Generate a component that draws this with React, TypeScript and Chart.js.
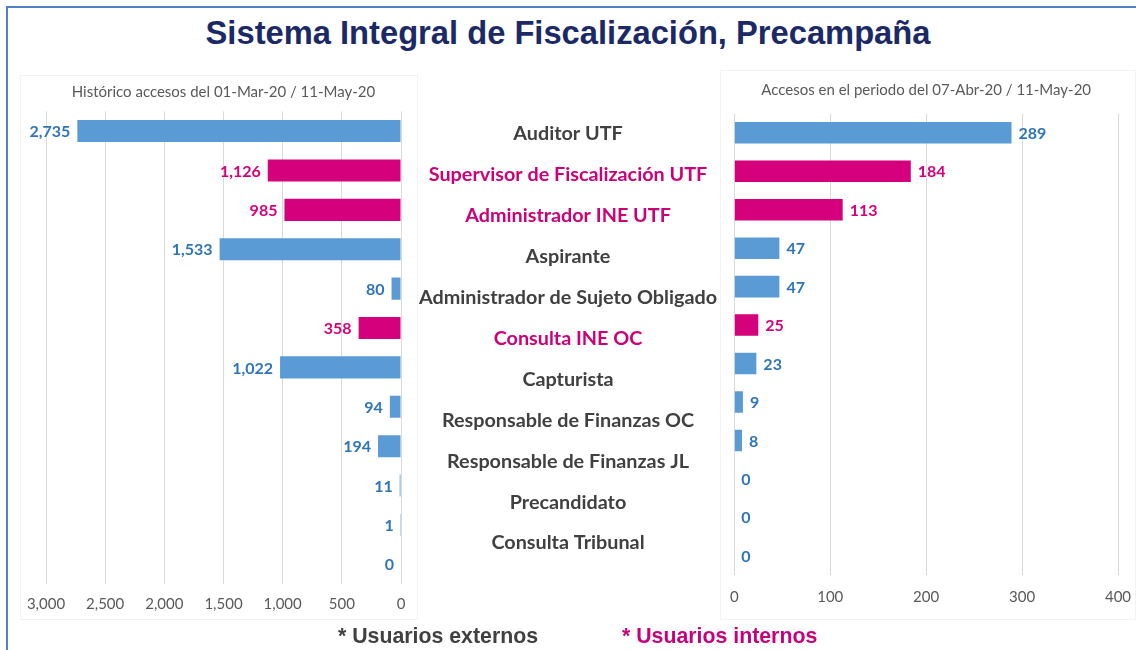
import React, { useEffect, useRef } from "react";
import { Chart, registerables } from "chart.js";

Chart.register(...registerables);

// ---- data ----
const categories = [
  "Auditor UTF",
  "Supervisor de Fiscalización UTF",
  "Administrador INE UTF",
  "Aspirante",
  "Administrador de Sujeto Obligado",
  "Consulta INE OC",
  "Capturista",
  "Responsable de Finanzas OC",
  "Responsable de Finanzas JL",
  "Precandidato",
  "Consulta Tribunal",
];
const categoryInternal = [false, true, true, false, false, true, false, false, false, false, false];

// bar rows (12 rows each; the last row has no label)
const rowLabels = [...categories, ""];
const rowInternal = [...categoryInternal, false];
const historico = [2735, 1126, 985, 1533, 80, 358, 1022, 94, 194, 11, 1, 0];
const periodo = [289, 184, 113, 47, 47, 25, 23, 9, 8, 0, 0, 0];

const histAxis = [0, 3000, 500]; // min, max, step
const periodAxis = [0, 400, 100];

const mainTitle = "Sistema Integral de Fiscalización, Precampaña";
const histTitle = "Histórico accesos del 01-Mar-20 / 11-May-20";
const periodTitle = "Accesos en el periodo del 07-Abr-20 / 11-May-20";
const legendExternal = "* Usuarios externos";
const legendInternal = "* Usuarios internos";

// ---- styles ----
const BLUE = "#5b9bd5";
const MAGENTA = "#d5007c";
const LABEL_BLUE = "#2e75b6";
const LABEL_MAG = "#d5007c";
const CAT_GRAY = "#404040";
const CAT_MAG = "#cc0077";
const TICK_GRAY = "#595959";
const GRID = "#d9d9d9";
const FONT = "Lato, 'Open Sans', sans-serif";

const fmt = (v: number) => Number(v).toLocaleString("en-US");

function valueLabels(side: "left" | "right") {
  return {
    id: "valueLabels",
    afterDatasetsDraw(chart: any) {
      const ctx = chart.ctx;
      const meta = chart.getDatasetMeta(0);
      const data = chart.data.datasets[0].data as number[];
      ctx.save();
      ctx.font = `bold 16px ${FONT}`;
      ctx.textBaseline = "middle";
      meta.data.forEach((el: any, i: number) => {
        ctx.fillStyle = rowInternal[i] ? LABEL_MAG : LABEL_BLUE;
        const txt = fmt(data[i]);
        if (side === "left") {
          ctx.textAlign = "right";
          ctx.fillText(txt, el.x - 7, el.y + 1);
        } else {
          ctx.textAlign = "left";
          ctx.fillText(txt, el.x + 7, el.y + 1);
        }
      });
      ctx.restore();
    },
  };
}

// draws the category names centred in the middle column, at the y scale's tick positions
const centerLabels = {
  id: "centerLabels",
  afterDraw(chart: any) {
    const ctx = chart.ctx;
    const y = chart.scales.y;
    const labels = chart.data.labels as string[];
    ctx.save();
    ctx.font = `bold 19.8px ${FONT}`;
    ctx.textAlign = "center";
    ctx.textBaseline = "middle";
    labels.forEach((lab, i) => {
      ctx.fillStyle = categoryInternal[i] ? CAT_MAG : CAT_GRAY;
      ctx.fillText(lab, chart.width / 2, y.getPixelForTick(i) + 1);
    });
    ctx.restore();
  },
};

const zeroScalePadding = (s: any) => {
  s.paddingLeft = 0;
  s.paddingRight = 0;
  s.paddingTop = 0;
  s.paddingBottom = 0;
};

function barConfig(
  values: number[],
  axis: number[],
  reverse: boolean,
  title: string,
  padding: any,
  titlePad: any,
  tickPad: number
): any {
  return {
    type: "bar",
    data: {
      labels: rowLabels,
      datasets: [
        {
          data: values,
          backgroundColor: values.map((_, i) => (rowInternal[i] ? MAGENTA : BLUE)),
          barPercentage: 0.56,
          categoryPercentage: 1,
        },
      ],
    },
    plugins: [valueLabels(reverse ? "left" : "right")],
    options: {
      indexAxis: "y",
      animation: false,
      responsive: false,
      maintainAspectRatio: false,
      layout: { padding },
      plugins: {
        legend: { display: false },
        tooltip: { enabled: false },
        title: {
          display: true,
          text: title,
          color: TICK_GRAY,
          font: { family: FONT, size: 15, weight: "normal" },
          padding: titlePad,
        },
      },
      scales: {
        x: {
          type: "linear",
          reverse,
          min: axis[0],
          max: axis[1],
          afterFit: zeroScalePadding,
          ticks: {
            stepSize: axis[2],
            color: TICK_GRAY,
            font: { family: FONT, size: 15 },
            padding: tickPad,
            callback: (v: any) => fmt(v),
            maxRotation: 0,
          },
          grid: { color: GRID, lineWidth: 1, drawTicks: false },
          border: { display: false },
        },
        y: { display: false },
      },
    },
  };
}

export default function App() {
  const leftRef = useRef<HTMLCanvasElement>(null);
  const midRef = useRef<HTMLCanvasElement>(null);
  const rightRef = useRef<HTMLCanvasElement>(null);

  useEffect(() => {
    const left = new Chart(
      leftRef.current!,
      barConfig(
        historico,
        histAxis,
        true,
        histTitle,
        { left: 26, right: 17, top: 0, bottom: 6 },
        { top: 8, bottom: 10.4 },
        11
      )
    );
    const right = new Chart(
      rightRef.current!,
      barConfig(
        periodo,
        periodAxis,
        false,
        periodTitle,
        { left: 14.3, right: 18, top: 0, bottom: 13 },
        { top: 11, bottom: 14.6 },
        13.5
      )
    );
    const mid = new Chart(midRef.current!, {
      type: "bar",
      data: { labels: categories, datasets: [{ data: [] }] },
      plugins: [centerLabels],
      options: {
        indexAxis: "y",
        animation: false,
        responsive: false,
        maintainAspectRatio: false,
        layout: { padding: { top: 12.5, bottom: 12.5, left: 0, right: 0 } },
        plugins: { legend: { display: false }, tooltip: { enabled: false } },
        scales: {
          x: { display: false, min: 0, max: 1 },
          y: {
            type: "category",
            display: false,
          },
        },
      },
    } as any);
    return () => {
      left.destroy();
      right.destroy();
      mid.destroy();
    };
  }, []);

  return (
    <div
      style={{
        position: "fixed",
        left: 0,
        top: 0,
        width: 1136,
        height: 650,
        background: "#fff",
        overflow: "hidden",
      }}
    >
      <div
        style={{
          position: "absolute",
          left: 6,
          top: 6,
          width: 1200,
          height: 700,
          borderLeft: "2px solid #4f81c7",
          borderTop: "2px solid #4f81c7",
        }}
      />
      <div
        style={{
          position: "absolute",
          left: 0,
          width: 1136,
          top: 13,
          textAlign: "center",
          fontFamily: "'Liberation Sans', Arial, sans-serif",
          fontWeight: "bold",
          fontSize: 32.7,
          lineHeight: "40px",
          color: "#1b2a66",
          whiteSpace: "nowrap",
        }}
      >
        {mainTitle}
      </div>
      <div
        style={{
          position: "absolute",
          left: 20,
          top: 75,
          width: 398,
          height: 545,
          boxSizing: "border-box",
          border: "1px solid #f3f3f3",
        }}
      />
      <div
        style={{
          position: "absolute",
          left: 720,
          top: 70,
          width: 416,
          height: 550,
          boxSizing: "border-box",
          border: "1px solid #f3f3f3",
        }}
      />
      <canvas
        ref={leftRef}
        width={398}
        height={555}
        style={{ position: "absolute", left: 20, top: 75, width: 398, height: 555 }}
      />
      <canvas
        ref={midRef}
        width={300}
        height={475}
        style={{ position: "absolute", left: 418, top: 100, width: 300, height: 475 }}
      />
      <canvas
        ref={rightRef}
        width={416}
        height={563}
        style={{ position: "absolute", left: 720, top: 70, width: 416, height: 563 }}
      />
      <div
        style={{
          position: "absolute",
          left: 338,
          top: 623,
          fontFamily: "'Liberation Sans', Arial, sans-serif",
          fontWeight: "bold",
          fontSize: 21.3,
          lineHeight: "26px",
          color: "#404040",
          whiteSpace: "nowrap",
        }}
      >
        {legendExternal}
      </div>
      <div
        style={{
          position: "absolute",
          left: 622,
          top: 623,
          fontFamily: "'Liberation Sans', Arial, sans-serif",
          fontWeight: "bold",
          fontSize: 21.3,
          lineHeight: "26px",
          color: "#c8007a",
          whiteSpace: "nowrap",
        }}
      >
        {legendInternal}
      </div>
    </div>
  );
}
